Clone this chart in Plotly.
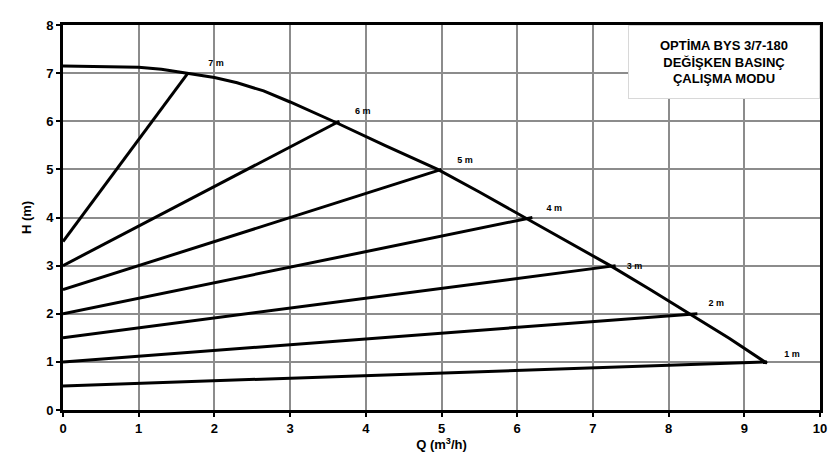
import plotly.graph_objects as go

# Main pump curve (Q, H)
curve_q = [0.0, 0.5, 1.0, 1.3, 1.65, 2.0, 2.3, 2.65, 3.0, 3.3, 3.57, 4.25, 4.95, 5.5, 6.1, 6.7, 7.23, 7.75, 8.28, 8.8, 9.3]
curve_h = [7.15, 7.14, 7.12, 7.08, 7.0, 6.91, 6.8, 6.63, 6.4, 6.19, 6.0, 5.5, 5.0, 4.53, 4.0, 3.47, 3.0, 2.51, 2.0, 1.49, 0.97]

# Variable-pressure control lines: start (0, H/2) to end on curve
set_labels = ["7 m", "6 m", "5 m", "4 m", "3 m", "2 m", "1 m"]
start_h = [3.5, 3.0, 2.5, 2.0, 1.5, 1.0, 0.5]
end_q = [1.65, 3.65, 5.0, 6.2, 7.3, 8.38, 9.3]
end_h = [7.0, 6.0, 5.0, 4.0, 3.0, 2.0, 1.0]

# Label positions
label_q = [2.02, 3.96, 5.31, 6.49, 7.55, 8.63, 9.63]
label_h = [7.19, 6.2, 5.18, 4.18, 2.97, 2.2, 1.14]

x_ticks = list(range(0, 11))
y_ticks = list(range(0, 9))

FONT = "Liberation Sans, Arial, sans-serif"

fig = go.Figure()

for sh, eq, eh in zip(start_h, end_q, end_h):
    fig.add_trace(go.Scatter(x=[0, eq], y=[sh, eh], mode="lines",
                             line=dict(color="black", width=3), showlegend=False,
                             hoverinfo="skip"))

fig.add_trace(go.Scatter(x=curve_q, y=curve_h, mode="lines",
                         line=dict(color="black", width=3, shape="linear"),
                         showlegend=False))

fig.add_trace(go.Scatter(x=label_q, y=label_h, mode="text", text=set_labels,
                         textfont=dict(family=FONT, size=9, color="black", weight="bold"),
                         showlegend=False, hoverinfo="skip"))

axis_common = dict(showgrid=True, gridcolor="#8c8c8c", gridwidth=1.5,
                   showline=True, linecolor="black", linewidth=3, mirror=True,
                   ticks="outside", ticklen=4, tickcolor="black", tickwidth=1.5,
                   zeroline=False,
                   tickfont=dict(family=FONT, size=13, color="black", weight="bold"))

fig.update_xaxes(range=[0, 10], tickvals=x_ticks, **axis_common,
                 title=dict(text="Q (m<sup>3</sup>/h)", standoff=3,
                            font=dict(family=FONT, size=13, color="black", weight="bold")))
fig.update_yaxes(range=[0, 8], tickvals=y_ticks, **axis_common,
                 title=dict(text="H (m)", standoff=12,
                            font=dict(family=FONT, size=13, color="black", weight="bold")))

fig.add_annotation(xref="paper", yref="paper", x=1.0, y=1.0,
                   xanchor="right", yanchor="top",
                   text="OPTİMA BYS 3/7-180<br>DEĞİŞKEN BASINÇ<br>ÇALIŞMA MODU",
                   showarrow=False, align="center",
                   font=dict(family=FONT, size=13, color="black", weight="bold"),
                   bgcolor="white", bordercolor="#d8d8d8", borderwidth=1,
                   width=188, height=70)

fig.update_layout(width=838, height=475, plot_bgcolor="white", paper_bgcolor="white",
                  margin=dict(l=63, r=18, t=25, b=65))

fig.write_html("out.html")
